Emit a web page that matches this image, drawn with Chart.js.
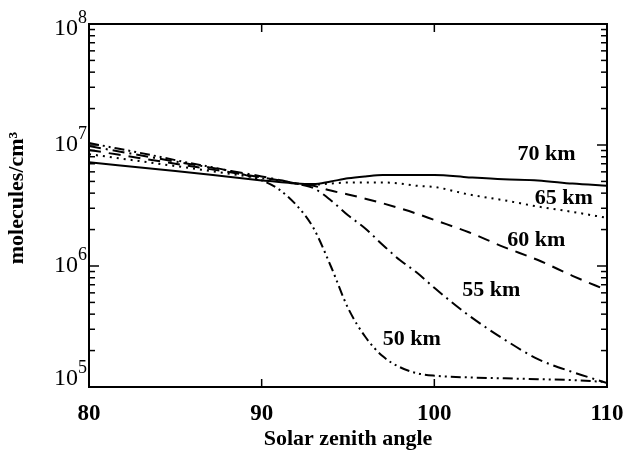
<!DOCTYPE html>
<html>
<head>
<meta charset="utf-8">
<script src="https://cdn.jsdelivr.net/npm/chart.js@4/dist/chart.umd.min.js"></script>
<style>
  html, body { margin: 0; padding: 0; background: #fff; }
  canvas { display: block; }
</style>
</head>
<body>
<canvas id="chart" width="625" height="453"></canvas>
<script>
// solar zenith angle (deg)
let angles = [80, 85, 90, 91, 92, 93, 94, 95, 96, 97, 98, 99, 100, 102, 104, 106, 108, 110];

// number density, molecules/cm^3
let km70 = [7.2e6, 6.1e6, 5.1e6, 4.95e6, 4.8e6, 4.75e6, 5.0e6, 5.3e6, 5.5e6, 5.65e6, 5.65e6, 5.65e6, 5.65e6, 5.4e6, 5.2e6, 5.1e6, 4.8e6, 4.6e6];
let km65 = [8.4e6, 6.7e6, 5.3e6, 5.05e6, 4.8e6, 4.7e6, 4.8e6, 4.9e6, 4.9e6, 4.9e6, 4.8e6, 4.6e6, 4.5e6, 3.9e6, 3.5e6, 3.1e6, 2.8e6, 2.5e6];
let km60 = [9.1e6, 7.0e6, 5.4e6, 5.1e6, 4.8e6, 4.6e6, 4.2e6, 3.9e6, 3.6e6, 3.3e6, 3.0e6, 2.7e6, 2.4e6, 1.9e6, 1.44e6, 1.12e6, 8.3e5, 6.3e5];
let km55 = [9.8e6, 7.3e6, 5.5e6, 5.15e6, 4.8e6, 4.4e6, 3.5e6, 2.63e6, 2.04e6, 1.5e6, 1.12e6, 8.8e5, 6.6e5, 3.9e5, 2.5e5, 1.7e5, 1.33e5, 1.08e5];
let km50 = [1.04e7, 7.5e6, 5.1e6, 4.3e6, 3.2e6, 2.06e6, 1.0e6, 4.5e5, 2.6e5, 1.8e5, 1.46e5, 1.3e5, 1.24e5, 1.2e5, 1.18e5, 1.16e5, 1.14e5, 1.1e5];

let seriesNames = ['70 km', '65 km', '60 km', '55 km', '50 km'];
let seriesValues = [km70, km65, km60, km55, km50];

// tick labels
let xTicks = [80, 90, 100, 110];
let yTickExps = [5, 6, 7, 8];

// where the curve names sit, in data units (angle, density)
let labelAngle = [106.5, 107.5, 105.9, 103.3, 98.7];
let labelValue = [8.3e6, 3.6e6, 1.64e6, 6.3e5, 2.5e5];

let dashes = [[], [2, 5], [12, 8], [12, 5, 2, 5], [10, 4, 2, 4, 2, 4]];

let datasets = seriesValues.map((vals, i) => ({
    label : seriesNames[i],
    data : angles.map((a, j) => ({x : a, y : vals[j]})),
    borderColor : '#000',
    borderWidth : 2,
    borderDash : dashes[i],
    pointRadius : 0,
    fill : false,
    cubicInterpolationMode : 'monotone'
}));

function seg(ctx, x1, y1, x2, y2){
    ctx.beginPath();
    ctx.moveTo(x1, y1);
    ctx.lineTo(x2, y2);
    ctx.stroke();
}

let frame = {
    id : 'frame',
    afterDraw(chart){
        let ctx = chart.ctx;
        let a = chart.chartArea;
        let xs = chart.scales.x;
        let ys = chart.scales.y;
        ctx.save();
        ctx.strokeStyle = '#000';
        ctx.fillStyle = '#000';
        ctx.lineWidth = 2;
        ctx.setLineDash([]);
        ctx.strokeRect(a.left, a.top, a.right - a.left, a.bottom - a.top);

        // y ticks, inward on both sides
        ctx.lineWidth = 1.5;
        for(let d = 5; d <= 8; d++){
            for(let m = 1; m <= 9; m++){
                let v = m * Math.pow(10, d);
                if(v > 1e8) break;
                let py = ys.getPixelForValue(v);
                let len = m == 1 ? 10 : 6;
                seg(ctx, a.left, py, a.left + len, py);
                seg(ctx, a.right, py, a.right - len, py);
            }
        }
        // x ticks
        for(let t of xTicks){
            if(t == xs.min || t == xs.max) continue;
            let px = xs.getPixelForValue(t);
            seg(ctx, px, a.bottom, px, a.bottom - 8);
            seg(ctx, px, a.top, px, a.top + 8);
        }

        // y tick labels 10^n
        ctx.textBaseline = 'middle';
        for(let e of yTickExps){
            let py = ys.getPixelForValue(Math.pow(10, e));
            if(e == 5) py -= 8;
            if(e == 8) py += 5;
            ctx.font = '24px "Liberation Serif"';
            ctx.textAlign = 'right';
            ctx.fillText('10', a.left - 11, py);
            ctx.font = '18px "Liberation Serif"';
            ctx.textAlign = 'left';
            ctx.fillText(String(e), a.left - 11, py - 11);
        }

        // x tick labels
        ctx.font = 'bold 23px "Liberation Serif"';
        ctx.textAlign = 'center';
        for(let t of xTicks){
            ctx.fillText(String(t), xs.getPixelForValue(t), a.bottom + 27);
        }

        // axis titles
        ctx.font = 'bold 22px "Liberation Serif"';
        ctx.fillText('Solar zenith angle', (a.left + a.right) / 2, a.bottom + 52);
        ctx.save();
        ctx.translate(17, 198);
        ctx.rotate(-Math.PI / 2);
        ctx.fillText('molecules/cm\u00B3', 0, 0);
        ctx.restore();

        // curve names
        ctx.font = 'bold 22px "Liberation Serif"';
        for(let i = 0; i < seriesNames.length; i++){
            ctx.fillText(seriesNames[i], xs.getPixelForValue(labelAngle[i]), ys.getPixelForValue(labelValue[i]));
        }
        ctx.restore();
    }
};

let chart = new Chart(document.getElementById('chart').getContext('2d'), {
    type : 'line',
    data : {datasets : datasets},
    options : {
        responsive : false,
        animation : false,
        devicePixelRatio : 1,
        layout : {padding : {left : 89, right : 18, top : 24, bottom : 66}},
        scales : {
            x : {type : 'linear', min : 80, max : 110, display : false},
            y : {type : 'logarithmic', min : 1e5, max : 1e8, display : false}
        },
        plugins : {
            legend : {display : false},
            tooltip : {enabled : false}
        }
    },
    plugins : [frame]
});
</script>
</body>
</html>
